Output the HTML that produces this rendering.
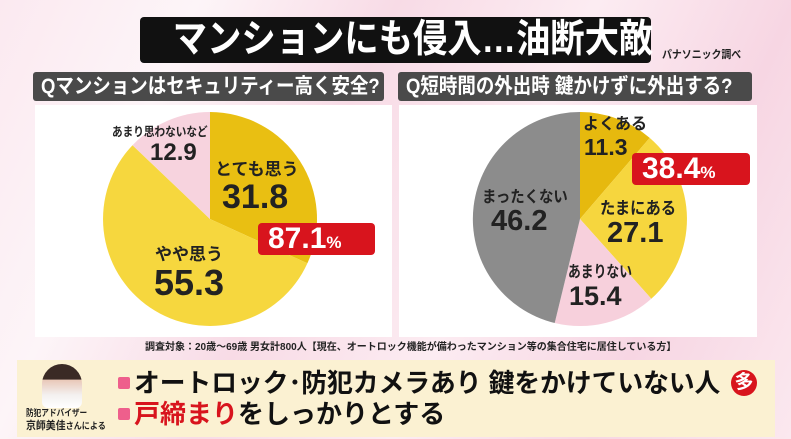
<!DOCTYPE html>
<html><head><meta charset="utf-8"><style>
*{margin:0;padding:0;box-sizing:border-box}
body{width:791px;height:439px;overflow:hidden;position:relative;font-family:"Liberation Sans","Noto Sans CJK JP",sans-serif;font-weight:bold;
background:linear-gradient(115deg,#fbe9f0 0%,#fdf5f8 20%,#f8dbe6 40%,#fcecf2 60%,#f7d6e3 80%,#fbe8ef 100%)}
.a{position:absolute;white-space:nowrap;line-height:1}
.q{position:absolute;white-space:nowrap;background:#4a4a4a;color:#fff;font-size:21px;height:29px;line-height:29px;border-radius:3px;padding-left:8px;overflow:hidden}
.s{display:inline-block;white-space:nowrap;transform-origin:left center}
</style></head><body>
<div class="a" style="left:140px;top:17px;width:511px;height:46px;background:#111;border-radius:4px;color:#fff;font-size:39px;line-height:46px;text-align:center"><span class="s" style="transform:scaleX(0.88);transform-origin:center">マンションにも侵入…油断大敵</span></div>
<div class="a" style="left:662px;top:50px;font-size:11px;color:#222"><span class="s" style="transform:scaleX(0.9)">パナソニック調べ</span></div>
<div class="q" style="left:33px;top:72px;width:351px"><span class="s" style="transform:scaleX(0.88)">Qマンションはセキュリティー高く安全?</span></div>
<div class="q" style="left:398px;top:72px;width:354px"><span class="s" style="transform:scaleX(0.88)">Q短時間の外出時 鍵かけずに外出する?</span></div>
<div class="a" style="left:35px;top:105px;width:357px;height:232px;background:#fff"></div>
<div class="a" style="left:399px;top:105px;width:358px;height:232px;background:#fff"></div>
<svg class="a" style="left:0;top:0" width="791" height="439">
<path d="M210,219 L210,112 A107,107 0 0 1 307.4,263.3 Z" fill="#e9bf12"/>
<path d="M210,219 L307.4,263.3 A107,107 0 1 1 132.5,145.2 Z" fill="#f6d73e"/>
<path d="M210,219 L132.5,145.2 A107,107 0 0 1 210,112 Z" fill="#f7d3de"/>
<path d="M580,219 L580,112 A107,107 0 0 1 649.7,137.9 Z" fill="#e6b90e"/>
<path d="M580,219 L649.7,137.9 A107,107 0 0 1 651.3,298.8 Z" fill="#f6d63e"/>
<path d="M580,219 L651.3,298.8 A107,107 0 0 1 554.7,323 Z" fill="#f7d0dc"/>
<path d="M580,219 L554.7,323 A107,107 0 0 1 580,112 Z" fill="#8c8c8c"/>
</svg>
<div class="a" style="left:112px;top:126px;font-size:12.5px;color:#222"><span class="s" style="transform:scaleX(0.85)">あまり思わないなど</span></div>
<div class="a" style="left:150px;top:141px;font-size:24px;color:#222">12.9</div>
<div class="a" style="left:215px;top:161px;font-size:17px;color:#222">とても思う</div>
<div class="a" style="left:222px;top:180px;font-size:34px;color:#222">31.8</div>
<div class="a" style="left:155px;top:246px;font-size:17px;color:#222">やや思う</div>
<div class="a" style="left:154px;top:265px;font-size:36px;color:#222">55.3</div>
<div class="a" style="left:258px;top:223px;width:117px;height:32px;background:#d8141d;border-radius:4px;color:#fff;font-size:30px;line-height:32px;padding-left:10px">87.1<span style="font-size:17px">%</span></div>
<div class="a" style="left:583px;top:117px;font-size:16px;color:#222">よくある</div>
<div class="a" style="left:584px;top:136px;font-size:23px;color:#222">11.3</div>
<div class="a" style="left:632px;top:153px;width:118px;height:32px;background:#d8141d;border-radius:4px;color:#fff;font-size:30px;line-height:32px;padding-left:10px">38.4<span style="font-size:17px">%</span></div>
<div class="a" style="left:482px;top:190px;font-size:16px;color:#222"><span class="s" style="transform:scaleX(0.9)">まったくない</span></div>
<div class="a" style="left:491px;top:207px;font-size:29px;color:#222">46.2</div>
<div class="a" style="left:600px;top:200px;font-size:17px;color:#222"><span class="s" style="transform:scaleX(0.9)">たまにある</span></div>
<div class="a" style="left:607px;top:219px;font-size:29px;color:#222">27.1</div>
<div class="a" style="left:568px;top:265px;font-size:16px;color:#222"><span class="s" style="transform:scaleX(0.8)">あまりない</span></div>
<div class="a" style="left:569px;top:283px;font-size:27px;color:#222">15.4</div>
<div class="a" style="left:145px;top:343px;font-size:10px;color:#222">調査対象：20歳～69歳 男女計800人【現在、オートロック機能が備わったマンション等の集合住宅に居住している方】</div>
<div class="a" style="left:17px;top:360px;width:758px;height:77px;background:#fbf1d2"></div>
<div class="a" style="left:42px;top:364px;width:40px;height:44px;border-radius:20px 20px 6px 6px;background:linear-gradient(#3a2a25 0%,#3a2a25 35%,#e9c8b8 36%,#f3f0ef 70%,#fff 100%)"></div>
<div class="a" style="left:26px;top:409px;font-size:9px;color:#222"><span class="s" style="transform:scaleX(0.85)">防犯アドバイザー</span></div>
<div class="a" style="left:26px;top:421px;font-size:11px;color:#222"><span class="s" style="transform:scaleX(0.9)">京師美佳<span style="font-size:9px">さんによる</span></span></div>
<div class="a" style="left:118px;top:377px;width:12px;height:12px;background:#ee5f8c;border-radius:2px"></div>
<div class="a" style="left:134px;top:370px;font-size:26px;color:#111"><span class="s" style="transform:scaleX(0.99)">オートロック･防犯カメラあり 鍵をかけていない人</span></div>
<div class="a" style="left:731px;top:370px;width:26px;height:26px;border-radius:13px;background:#d8141d;color:#fff;font-size:19px;line-height:26px;text-align:center">多</div>
<div class="a" style="left:118px;top:408px;width:12px;height:12px;background:#ee5f8c;border-radius:2px"></div>
<div class="a" style="left:134px;top:401px;font-size:26px;color:#111"><span class="s" style="transform:scaleX(1.0)"><span style="color:#d8141d">戸締まり</span>をしっかりとする</span></div>
</body></html>
